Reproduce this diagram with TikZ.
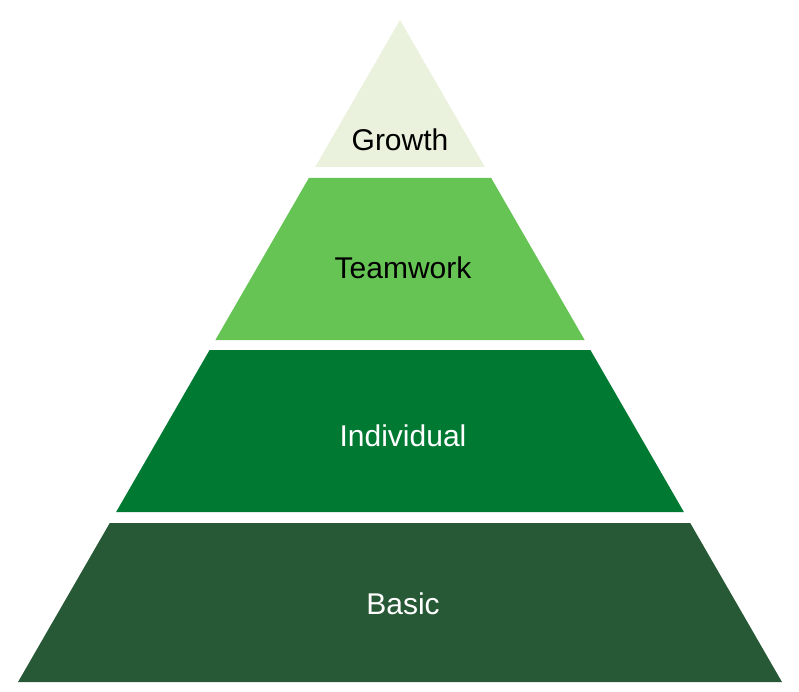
\documentclass[tikz,border=0pt]{standalone}
\usepackage{fontspec}
\setmainfont{Liberation Sans}
\definecolor{growthc}{HTML}{EAF2DD}
\definecolor{teamc}{HTML}{66C455}
\definecolor{indivc}{HTML}{007A33}
\definecolor{basicc}{HTML}{285936}
\tikzset{layer/.style={font=\fontsize{30}{36}\selectfont}}
\begin{document}
\begin{tikzpicture}[x=1pt,y=-1pt]
\useasboundingbox (0,0) rectangle (799,692);
% half width at depth d below apex is 0.577 d
\newcommand{\band}[3]{\fill[#3] ({400-0.577*(#1-20)},#1) -- ({400+0.577*(#1-20)},#1) -- ({400+0.577*(#2-20)},#2) -- ({400-0.577*(#2-20)},#2) -- cycle;}
\band{20}{167}{growthc}
\band{178}{340}{teamc}
\band{350}{512}{indivc}
\band{523}{682}{basicc}
\node[layer] (growth) at (400,140) {Growth};
\node[layer] (teamwork) at (403,268) {Teamwork};
\node[layer,white] (individual) at (403,436) {Individual};
\node[layer,white] (basic) at (403,604) {Basic};
\end{tikzpicture}
\end{document}
